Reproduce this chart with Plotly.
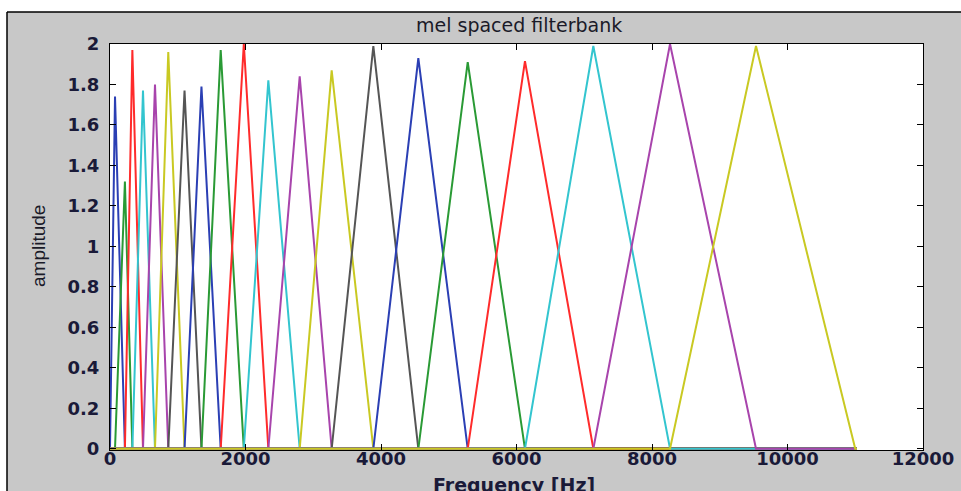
import plotly.graph_objects as go

# Mel filterbank: centre frequency (Hz) and peak amplitude of each triangular filter
peak_hz = [74, 220, 330, 487, 664, 860, 1100, 1350, 1634, 1975,
           2337, 2800, 3272, 3887, 4551, 5280, 6125, 7134, 8266, 9535]
peak_amp = [1.74, 1.32, 1.97, 1.77, 1.80, 1.96, 1.77, 1.79, 1.97, 2.00,
            1.82, 1.84, 1.87, 1.99, 1.93, 1.91, 1.915, 1.99, 2.00, 1.99]
# outer band edges of the first and last filter, and the Nyquist limit of the spectrum
low_edge_hz = 0
high_edge_hz = 11000
nyquist_hz = 11025

x_ticks = [0, 2000, 4000, 6000, 8000, 10000, 12000]
y_ticks = [0, 0.2, 0.4, 0.6, 0.8, 1, 1.2, 1.4, 1.6, 1.8, 2]
y_tick_text = ["0", "0.2", "0.4", "0.6", "0.8", "1", "1.2", "1.4", "1.6", "1.8", "2"]

# classic MATLAB line colour order: b g r c m y k
colour_cycle = ["#2b3fb4", "#2a9a35", "#ff2b2b", "#33c5cf", "#a844ac", "#c9c922", "#555555"]

edges = [low_edge_hz] + peak_hz + [high_edge_hz]
n_filters = len(peak_hz)

fig = go.Figure()
for i, (fc, amp) in enumerate(zip(peak_hz, peak_amp)):
    lo, hi = edges[i], edges[i + 2]
    fig.add_trace(go.Scatter(
        x=[0, lo, fc, hi, nyquist_hz],
        y=[0, 0, amp, 0, 0],
        # the last filter (drawn on top anyway) uses the labelled copy of the frequency axis
        xaxis="x2" if i == n_filters - 1 else "x",
        mode="lines",
        line=dict(color=colour_cycle[i % len(colour_cycle)], width=2),
        showlegend=False,
        hoverinfo="x+y",
    ))

tick_font = dict(family="DejaVu Sans, sans-serif", size=18, color="#1a1a38", weight="bold")

L, R, T, B = 110, 38, 44, 41
W, H = 961, 491
pw, ph = W - L - R, H - T - B


def px_x(px):
    return (px - L) / pw


def px_y(py):
    return (H - B - py) / ph


fig.update_layout(
    width=W, height=H,
    margin=dict(l=L, r=R, t=T, b=B, autoexpand=False),
    paper_bgcolor="#c8c8c8",
    plot_bgcolor="white",
    xaxis=dict(
        range=[0, 12000], tickvals=x_ticks, showticklabels=False,
        showgrid=False, zeroline=False, showline=True, linecolor="black", linewidth=1,
        mirror="ticks", ticks="inside", ticklen=6, tickcolor="black",
    ),
    # label-only copy of the frequency axis, sitting a little higher so the
    # numbers hug the frame
    xaxis2=dict(
        range=[0, 12000], tickvals=x_ticks, ticktext=[str(v) for v in x_ticks],
        overlaying="x", anchor="free", position=px_y(446), side="bottom",
        showgrid=False, zeroline=False, showline=False, ticks="",
        tickfont=tick_font, ticklabelstandoff=0,
    ),
    yaxis=dict(
        range=[-0.006, 2], tickvals=y_ticks, ticktext=y_tick_text,
        showgrid=False, zeroline=False, showline=True, linecolor="black", linewidth=1,
        mirror="ticks", ticks="inside", ticklen=6, tickcolor="black",
        tickfont=tick_font, ticklabelstandoff=6,
    ),
    shapes=[
        # white surround at the top and left, with the black window edge
        dict(type="rect", xref="paper", yref="paper",
             x0=px_x(0), x1=px_x(W), y0=px_y(12), y1=px_y(0),
             fillcolor="white", line=dict(width=0), layer="above"),
        dict(type="rect", xref="paper", yref="paper",
             x0=px_x(0), x1=px_x(7), y0=px_y(H), y1=px_y(0),
             fillcolor="white", line=dict(width=0), layer="above"),
        dict(type="line", xref="paper", yref="paper",
             x0=px_x(7), x1=px_x(W), y0=px_y(12), y1=px_y(12),
             line=dict(color="black", width=1.5), layer="above"),
        dict(type="line", xref="paper", yref="paper",
             x0=px_x(7), x1=px_x(7), y0=px_y(12), y1=px_y(H),
             line=dict(color="black", width=1.5), layer="above"),
    ],
    annotations=[
        dict(text="mel spaced filterbank", xref="paper", yref="paper",
             x=px_x(519), y=px_y(25), xanchor="center", yanchor="middle", showarrow=False,
             font=dict(family="DejaVu Sans, sans-serif", size=19, color="#1a1a28")),
        dict(text="Frequency [Hz]", xref="paper", yref="paper",
             x=px_x(514), y=px_y(485), xanchor="center", yanchor="middle", showarrow=False,
             font=dict(family="DejaVu Sans, sans-serif", size=19, color="#1a1a38",
                       weight="bold")),
        dict(text="amplitude", xref="paper", yref="paper",
             x=px_x(39), y=px_y(246), xanchor="center", yanchor="middle", showarrow=False,
             textangle=-90,
             font=dict(family="Liberation Sans Narrow, Liberation Sans, Arial, sans-serif",
                       size=19, color="#1a1a28")),
    ],
)

fig.write_html("out.html")
